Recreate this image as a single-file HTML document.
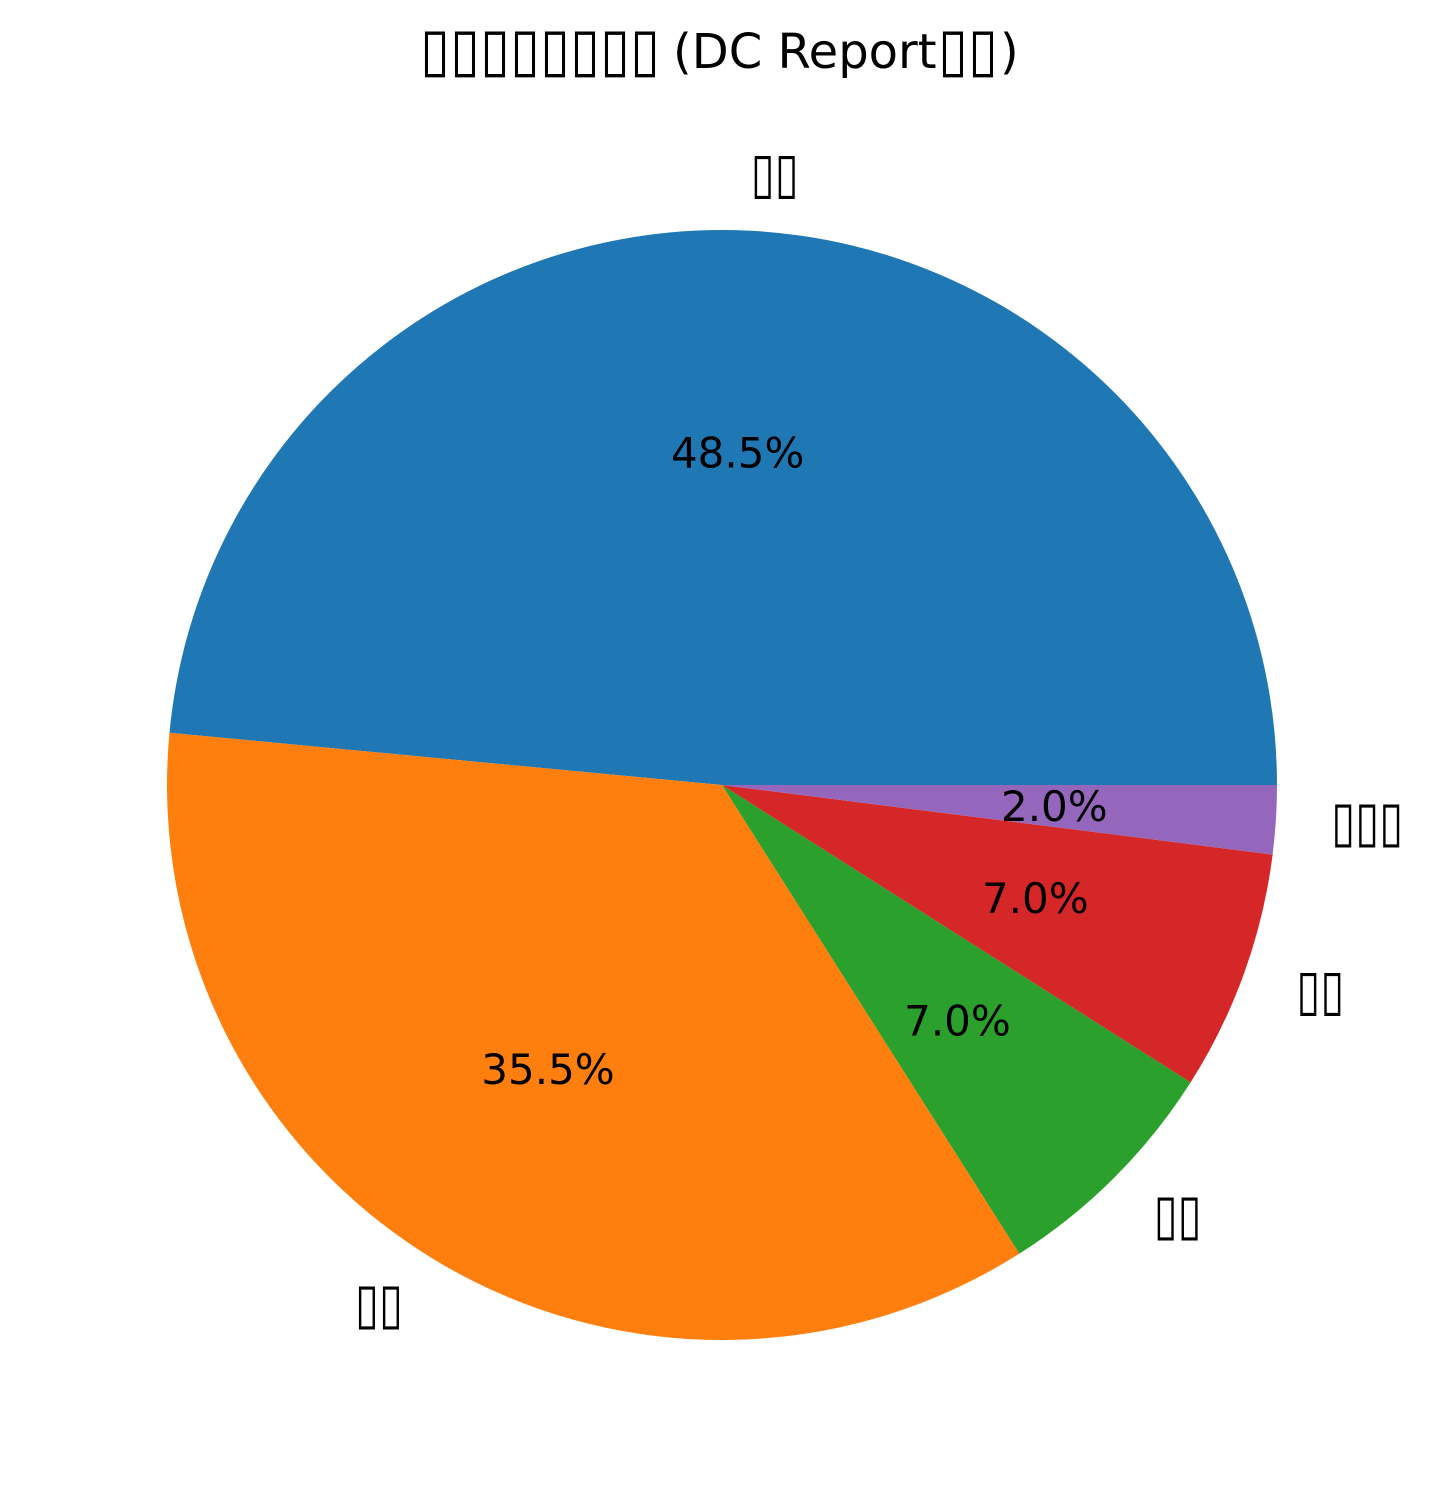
<!DOCTYPE html>
<html><head><meta charset="utf-8"><style>body{margin:0;background:#fff}svg{display:block}</style></head>
<body>
<svg id="chart" width="1446" height="1509" xmlns="http://www.w3.org/2000/svg" font-family="DejaVu Sans, Liberation Sans, sans-serif">
<g>
<text x="420" y="70" font-size="60" textLength="240" lengthAdjust="spacingAndGlyphs">▯▯▯▯▯▯▯▯</text>
<text x="673" y="68" font-size="48">(DC Report</text>
<text x="938" y="70" font-size="60" textLength="60" lengthAdjust="spacingAndGlyphs">▯▯</text>
<text x="1000" y="68" font-size="48">)</text>
</g>
<g id="slices"></g>
</svg>
<script>
const categories = ["▯▯", "▯▯", "▯▯", "▯▯", "▯▯▯"];
const values = [48.5, 35.5, 7.0, 7.0, 2.0];
const colors = ["#1f77b4", "#ff7f0e", "#2ca02c", "#d62728", "#9467bd"];
const cx = 722, cy = 785, R = 555;
const g = document.getElementById('slices');
const NS = "http://www.w3.org/2000/svg";
const total = values.reduce((a, b) => a + b, 0);
function pt(a, r) { return [cx + r * Math.cos(a), cy - r * Math.sin(a)]; }
let start = 0;
values.forEach((v, i) => {
  const sweep = v / total * 2 * Math.PI;
  const end = start + sweep;
  const [x1, y1] = pt(start, R), [x2, y2] = pt(end, R);
  const p = document.createElementNS(NS, 'path');
  p.setAttribute('d', `M${cx},${cy} L${x1},${y1} A${R},${R} 0 ${sweep > Math.PI ? 1 : 0} 0 ${x2},${y2} Z`);
  p.setAttribute('fill', colors[i]);
  
  
  g.appendChild(p);
  const mid = (start + end) / 2;
  const [lx, ly] = pt(mid, R * 1.1);
  const t = document.createElementNS(NS, 'text');
  t.setAttribute('x', lx); t.setAttribute('y', ly + 17);
  t.setAttribute('font-size', '56');
  t.setAttribute('text-anchor', Math.cos(mid) >= 0 ? 'start' : 'end');
  t.setAttribute('textLength', 24 * categories[i].length);
  t.setAttribute('lengthAdjust', 'spacingAndGlyphs');
  t.textContent = categories[i];
  
  
  g.appendChild(t);
  const [px, py] = pt(mid, R * 0.6);
  const pc = document.createElementNS(NS, 'text');
  pc.setAttribute('x', px); pc.setAttribute('y', py + 15);
  pc.setAttribute('font-size', '42');
  pc.setAttribute('text-anchor', 'middle');
  pc.textContent = v.toFixed(1) + '%';
  
  
  g.appendChild(pc);
  start = end;
});
</script>
</body></html>
